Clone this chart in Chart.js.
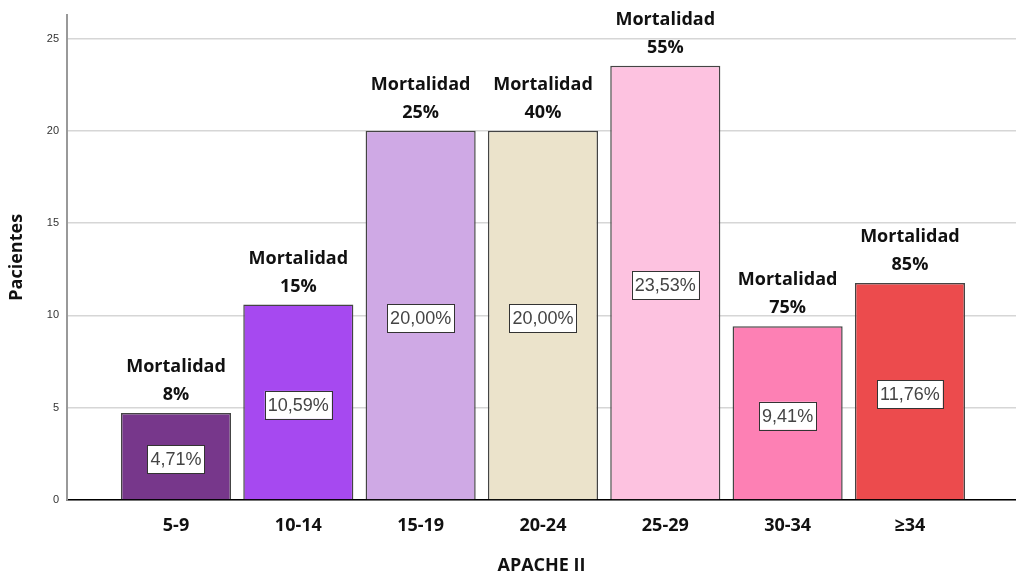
<!DOCTYPE html>
<html>
<head>
<meta charset="utf-8">
<script src="https://cdn.jsdelivr.net/npm/chart.js@4"></script>
<style>
    html, body { margin: 0; padding: 0; background: #fff; }
    #wrap { width: 1016px; height: 577px; }
</style>
</head>
<body>
<div id="wrap"><canvas id="apacheChart"></canvas></div>
<script>
// Data
const categories = ['5-9', '10-14', '15-19', '20-24', '25-29', '30-34', '≥34'];
const patientPct = [4.71, 10.59, 20.00, 20.00, 23.53, 9.41, 11.76];
const mortality = ['8%', '15%', '25%', '40%', '55%', '75%', '85%'];
const yTicks = [0, 5, 10, 15, 20, 25];
const barColors = ['#77378b', '#a649f0', '#cfa9e5', '#ebe3cb', '#fdc2e0', '#fd80b4', '#ec4b4d'];

// Labels drawn on and above the bars
const barLabels = {
    id: 'barLabels',
    afterDatasetsDraw(chart) {
        const ctx = chart.ctx;
        const meta = chart.getDatasetMeta(0);
        ctx.save();
        meta.data.forEach(function(bar, i) {
            const x = bar.x;
            const top = bar.y;
            const bottom = bar.base;

            // mortality text
            ctx.fillStyle = '#111';
            ctx.font = 'bold 18px "Open Sans", "Noto Sans", sans-serif';
            ctx.textAlign = 'center';
            ctx.textBaseline = 'middle';
            ctx.fillText('Mortalidad', x, top - 46);
            ctx.fillText(mortality[i], x, top - 18);

            // percentage box
            const txt = patientPct[i].toFixed(2).replace('.', ',') + '%';
            ctx.font = '18px "Liberation Sans", Arial, sans-serif';
            const w = ctx.measureText(txt).width + 6;
            const h = 28;
            const cy = (top + bottom) / 2 + 3;
            ctx.fillStyle = '#fff';
            ctx.fillRect(x - w / 2, cy - h / 2, w, h);
            ctx.strokeStyle = '#333';
            ctx.lineWidth = 1;
            ctx.strokeRect(Math.round(x - w / 2) + 0.5, Math.round(cy - h / 2) + 0.5, Math.round(w), h);
            ctx.fillStyle = '#444';
            ctx.fillText(txt, x, cy + 1);
        });
        ctx.restore();
    }
};

function initializeApacheChart() {
    const ctx = document.getElementById('apacheChart');
    if (!ctx) return;

    new Chart(ctx, {
        type: 'bar',
        data: {
            datasets: [{
                data: patientPct.map((v, i) => ({ x: i, y: v })),
                backgroundColor: barColors,
                borderColor: '#444',
                borderWidth: 1.5,
                categoryPercentage: 0.9,
                barPercentage: 1.0
            }]
        },
        options: {
            responsive: true,
            maintainAspectRatio: false,
            animation: false,
            layout: { padding: { top: 12, right: 0, bottom: 0, left: 0 } },
            plugins: {
                legend: { display: false },
                tooltip: { enabled: false }
            },
            scales: {
                x: {
                    type: 'linear',
                    offset: false,
                    min: -0.891,
                    max: 6.867,
                    grid: { display: false, offset: false },
                    border: { display: true, color: '#000', width: 1.5 },
                    afterBuildTicks: function(scale) {
                        scale.ticks = categories.map((c, i) => ({ value: i }));
                    },
                    afterFit: function(scale) { scale.height = 77; },
                    ticks: {
                        autoSkip: false,
                        maxRotation: 0,
                        padding: 7,
                        color: '#111',
                        font: { family: '"Open Sans", "Noto Sans", sans-serif', size: 18, weight: 'bold' },
                        callback: function(value) { return categories[value]; }
                    },
                    title: {
                        display: true,
                        text: 'APACHE II',
                        color: '#111',
                        padding: { top: 10, bottom: 0 },
                        font: { family: '"Open Sans", "Noto Sans", sans-serif', size: 18, weight: 'bold' }
                    }
                },
                y: {
                    min: 0,
                    max: 26.3,
                    grid: { color: '#d6d6d6', lineWidth: 1.5, drawTicks: false },
                    border: { display: true, color: '#999', width: 2 },
                    afterBuildTicks: function(scale) {
                        scale.ticks = yTicks.map(v => ({ value: v }));
                    },
                    afterFit: function(scale) { scale.width = 67; },
                    ticks: {
                        padding: 8,
                        color: '#333',
                        font: { family: '"Liberation Sans", Arial, sans-serif', size: 11 }
                    },
                    title: {
                        display: true,
                        text: 'Pacientes',
                        color: '#111',
                        padding: { top: 6, bottom: 0 },
                        font: { family: '"Open Sans", "Noto Sans", sans-serif', size: 18, weight: 'bold' }
                    }
                }
            }
        },
        plugins: [barLabels]
    });
}

document.addEventListener('DOMContentLoaded', initializeApacheChart);
</script>
</body>
</html>
